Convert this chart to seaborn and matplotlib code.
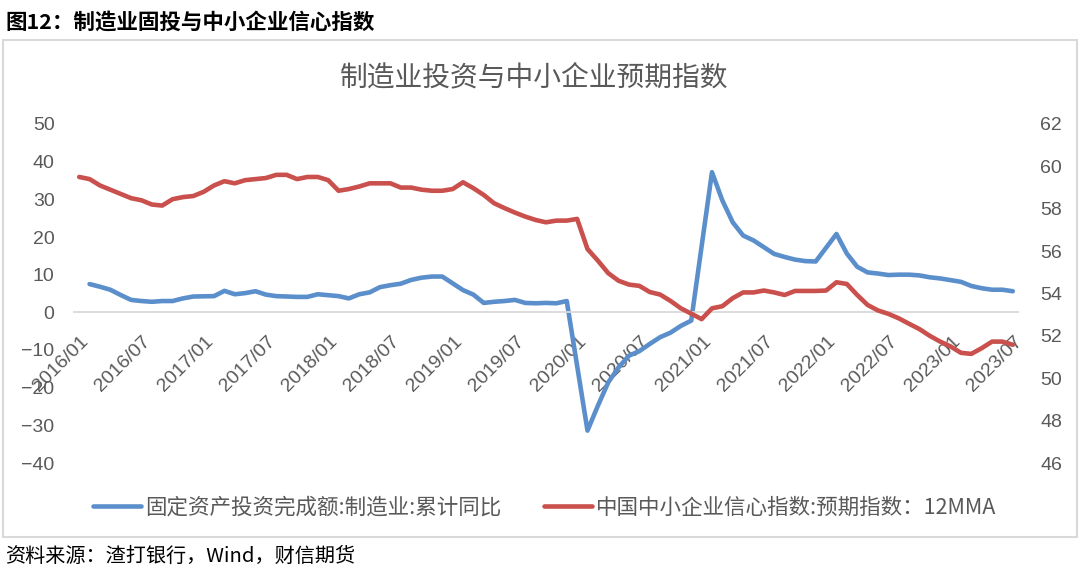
import matplotlib
matplotlib.use("Agg")
import matplotlib.pyplot as plt
from matplotlib.patches import Rectangle
from matplotlib.transforms import ScaledTranslation
import pandas as pd
import seaborn as sns

# monthly categories, 2016/01 .. 2023/07
months = pd.period_range("2016-01", "2023-07", freq="M")
tick_labels = [p.strftime("%Y/%m") for p in months[::6]]

# 固定资产投资完成额:制造业:累计同比 (no January print each year)
manu_fai = [
    None, 7.5, 6.8, 6.0, 4.6, 3.3, 3.0, 2.8, 3.0, 3.0, 3.7, 4.2,          # 2016
    None, 4.3, 5.7, 4.8, 5.1, 5.6, 4.7, 4.3, 4.2, 4.1, 4.1, 4.8,          # 2017
    None, 4.3, 3.7, 4.8, 5.3, 6.7, 7.2, 7.6, 8.6, 9.2, 9.5, 9.5,          # 2018
    None, 5.9, 4.7, 2.5, 2.8, 3.0, 3.3, 2.5, 2.4, 2.5, 2.4, 3.0,          # 2019
    None, -31.4, -24.8, -18.6, -14.6, -11.5, -10.3, -8.4, -6.6, -5.4, -3.6, -2.2,  # 2020
    None, 37.2, 29.7, 23.9, 20.4, 19.1, 17.3, 15.5, 14.7, 14.0, 13.6, 13.5,  # 2021
    None, 20.8, 15.6, 12.1, 10.6, 10.3, 9.9, 10.0, 10.0, 9.8, 9.3, 9.0,   # 2022
    None, 8.1, 7.0, 6.4, 6.0, 6.0, 5.6,                                  # 2023
]

# 中国中小企业信心指数:预期指数 12MMA
sme_expect = [
    59.5, 59.4, 59.1, 58.9, 58.7, 58.5, 58.4, 58.2, 58.15, 58.45, 58.55, 58.6,    # 2016
    58.8, 59.1, 59.3, 59.2, 59.35, 59.4, 59.45, 59.6, 59.6, 59.4, 59.5, 59.5,     # 2017
    59.35, 58.85, 58.93, 59.05, 59.2, 59.2, 59.2, 59.0, 59.0, 58.9, 58.85, 58.85,  # 2018
    58.93, 59.25, 58.97, 58.65, 58.26, 58.03, 57.82, 57.63, 57.47, 57.36, 57.44, 57.44,  # 2019
    57.52, 56.1, 55.55, 54.96, 54.6, 54.42, 54.36, 54.07, 53.95, 53.65, 53.3, 53.05,  # 2020
    52.79, 53.3, 53.4, 53.78, 54.05, 54.05, 54.14, 54.05, 53.93, 54.12, 54.12, 54.12,  # 2021
    54.14, 54.53, 54.45, 53.93, 53.46, 53.2, 53.04, 52.83, 52.57, 52.32, 52.0, 51.73,  # 2022
    51.5, 51.2, 51.15, 51.42, 51.73, 51.73, 51.58,                               # 2023
]

label_fai = "固定资产投资完成额:制造业:累计同比"
label_sme = "中国中小企业信心指数:预期指数：12MMA"

blue = "#5b8fcb"
red = "#c9504c"
grey = "#595959"

df = pd.DataFrame({"m": range(len(months)), "fai": manu_fai, "sme": sme_expect})
df["fai"] = pd.to_numeric(df["fai"])
df_fai = df.dropna(subset=["fai"])

sns.set_theme(style="white")
plt.rcParams["font.family"] = ["Noto Sans CJK SC", "DejaVu Sans"]

fig = plt.figure(figsize=(10.8, 5.72), dpi=100)
ax = fig.add_axes([74 / 1080, 1 - 463 / 572, (1018 - 74) / 1080, (463 - 124) / 572])
ax2 = ax.twinx()

sns.lineplot(data=df_fai, x="m", y="fai", ax=ax, color=blue, linewidth=3.3,
             label=label_fai, solid_capstyle="round", solid_joinstyle="round")
sns.lineplot(data=df, x="m", y="sme", ax=ax2, color=red, linewidth=3.3,
             label=label_sme, solid_capstyle="round", solid_joinstyle="round")
for a in (ax, ax2):
    if a.get_legend():
        a.get_legend().remove()
    a.set_xlabel("")
    a.set_ylabel("")

ax.set_xlim(-0.5, len(months) - 0.5)
ax.set_ylim(-40, 50)
ax.set_yticks(range(-40, 51, 10))
ax2.set_ylim(46, 62)
ax2.set_yticks(range(46, 63, 2))

for s in ("top", "left", "right"):
    ax.spines[s].set_visible(False)
for s in ax2.spines.values():
    s.set_visible(False)
ax.spines["bottom"].set_position(("data", 0))
ax.spines["bottom"].set_color("#d9d9d9")
ax.spines["bottom"].set_linewidth(1.3)

ax.tick_params(axis="y", length=0, pad=14, labelsize=14, labelcolor=grey)
ax2.tick_params(axis="y", length=0, pad=16, labelsize=14, labelcolor=grey)
for lab in ax.get_yticklabels() + ax2.get_yticklabels():
    lab.set_fontfamily("Liberation Sans")

ax.set_xticks([i - 0.5 for i in range(0, len(months), 6)])
ax.set_xticklabels(tick_labels, rotation=45, ha="right", va="top",
                   rotation_mode="anchor", fontsize=14, color=grey,
                   fontfamily="Liberation Sans")
ax.tick_params(axis="x", length=5, width=1.3, color="#d9d9d9", direction="out", pad=10)
shift = ScaledTranslation(0.06, 0, fig.dpi_scale_trans)
for lab in ax.get_xticklabels():
    lab.set_transform(lab.get_transform() + shift)

# frame and texts
fig.add_artist(Rectangle((3 / 1080, 1 - 537 / 572), 1074 / 1080, 497 / 572,
                         transform=fig.transFigure, fill=False, ec="#d9d9d9", lw=1.5))
fig.text(5 / 1080, 1 - 22 / 572, "图12：制造业固投与中小企业信心指数",
         fontsize=15.5, fontweight="bold", ha="left", va="center", color="black")
fig.text(534 / 1080, 1 - 77 / 572, "制造业投资与中小企业预期指数",
         fontsize=20, color=grey, ha="center", va="center", fontweight="light")
fig.text(5 / 1080, 1 - 556 / 572, "资料来源：渣打银行，Wind，财信期货",
         fontsize=14.5, style="italic", ha="left", va="center", color="black")

handles = [ax.lines[0], ax2.lines[0]]
fig.legend(handles, [label_fai, label_sme], loc="center",
           bbox_to_anchor=(545 / 1080, 1 - 508 / 572), ncol=2, frameon=False,
           fontsize=15.5, handlelength=2.2, handletextpad=0.2, columnspacing=2.0,
           labelcolor=grey)

fig.savefig("out.png", dpi=100)
